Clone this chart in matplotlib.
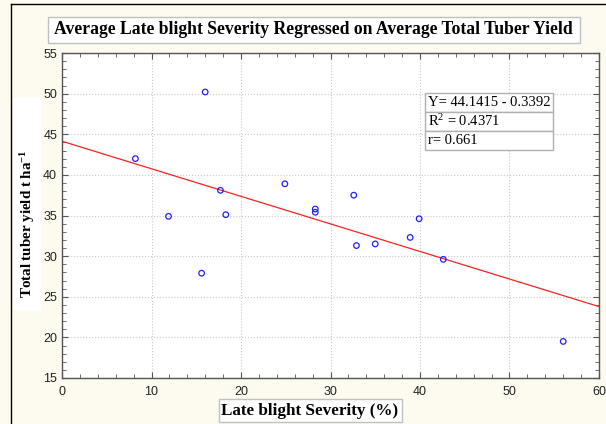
import numpy as np
import matplotlib
matplotlib.use('Agg')
import matplotlib.pyplot as plt
from matplotlib.ticker import MultipleLocator
from matplotlib.patches import Rectangle
from matplotlib.lines import Line2D

# data
severity = [8.2, 11.9, 15.6, 16.0, 17.7, 18.3, 24.9, 28.3, 28.3,
            32.6, 32.9, 35.0, 38.9, 39.9, 42.6, 56.0]
tuber_yield = [42.0, 34.9, 27.9, 50.2, 38.1, 35.1, 38.9, 35.8, 35.4,
               37.5, 31.3, 31.5, 32.3, 34.6, 29.6, 19.5]
intercept = 44.1415
slope = -0.3392
stats_rows = ['Y= 44.1415 - 0.3392', r'R$^{2}$ = 0.4371', 'r= 0.661']

bg = '#fdfaf0'
serif = ['Liberation Serif', 'DejaVu Serif']
plt.rcParams['mathtext.fontset'] = 'custom'
plt.rcParams['mathtext.rm'] = 'Liberation Serif'
plt.rcParams['mathtext.bf'] = 'Liberation Serif:bold'
plt.rcParams['mathtext.default'] = 'rm'

fig = plt.figure(figsize=(6.06, 4.24), dpi=100, facecolor=bg)
ax = fig.add_axes([62/606, 1-378/424, (599-62)/606, (378-53)/424])
ax.set_facecolor('white')

# regression line
xl = np.array([0, 60])
ax.plot(xl, intercept + slope*xl, color='#ff2020', lw=0.9, zorder=2)
ax.scatter(severity, tuber_yield, s=16, facecolors='none', edgecolors='#2020ff',
           linewidths=0.9, zorder=3)

ax.set_xlim(0, 60)
ax.set_ylim(15, 55)
ax.xaxis.set_major_locator(MultipleLocator(10))
ax.xaxis.set_minor_locator(MultipleLocator(2))
ax.yaxis.set_major_locator(MultipleLocator(5))
ax.yaxis.set_minor_locator(MultipleLocator(1))
ax.grid(True, which='major', color='#c8c8c8', ls=':', lw=0.8)
ax.tick_params(which='both', direction='in', top=True, right=True,
               colors='#555555', labelcolor='#222222', labelsize=9)
ax.tick_params(which='major', length=4)
ax.tick_params(which='minor', length=3)
ax.tick_params(axis='x', pad=6)
for lab in ax.get_xticklabels() + ax.get_yticklabels():
    lab.set_family(['Liberation Sans', 'DejaVu Sans'])
for s in ax.spines.values():
    s.set_color('#555555')
    s.set_linewidth(1.0)

# title in white box
fig.patches.append(Rectangle((48/606, 1-43/424), (580-48)/606, 26/424,
                             transform=fig.transFigure, fc='white', ec='#c0c0c0', lw=1))
fig.text(313/606, 1-30/424,
         'Average Late blight Severity Regressed on Average Total Tuber Yield',
         ha='center', va='center', family=serif, weight='bold', fontsize=12.7)

# axis labels
fig.patches.append(Rectangle((219/606, 1-422/424), (402-219)/606, 23/424,
                             transform=fig.transFigure, fc='white', ec='#c0c0c0', lw=1))
fig.text(310/606, 1-411/424, 'Late blight Severity (%)', ha='center', va='center',
         family=serif, weight='bold', fontsize=12.3)
fig.patches.append(Rectangle((13/606, 1-310/424), 28/606, 212/424,
                             transform=fig.transFigure, fc='white', ec='none'))
fig.text(28/606, 1-224/424, r'Total tuber yield t ha$^{\mathbf{-1}}$', ha='center',
         va='center', rotation=90, family=serif, weight='bold', fontsize=10.8)

# stats table
x0, x1 = 425/606, 553/606
tops = [93, 112, 131, 150]
for i, txt in enumerate(stats_rows):
    y_top = 1 - tops[i]/424
    y_bot = 1 - tops[i+1]/424
    fig.patches.append(Rectangle((x0, y_bot), x1-x0, y_top-y_bot, transform=fig.transFigure,
                                 fc='white', ec='#b0b0b0', lw=1, zorder=5))
    fig.text(x0 + 3/606, (y_top+y_bot)/2, txt, ha='left', va='center',
             family=serif, fontsize=10.5, zorder=6)

# outer frame lines
fig.lines.append(Line2D([11/606, 1], [1-4/424, 1-4/424], transform=fig.transFigure,
                        color='black', lw=1))
fig.lines.append(Line2D([11/606, 11/606], [0, 1-4/424], transform=fig.transFigure,
                        color='black', lw=1))

fig.savefig('out.png', dpi=100, facecolor=bg)
